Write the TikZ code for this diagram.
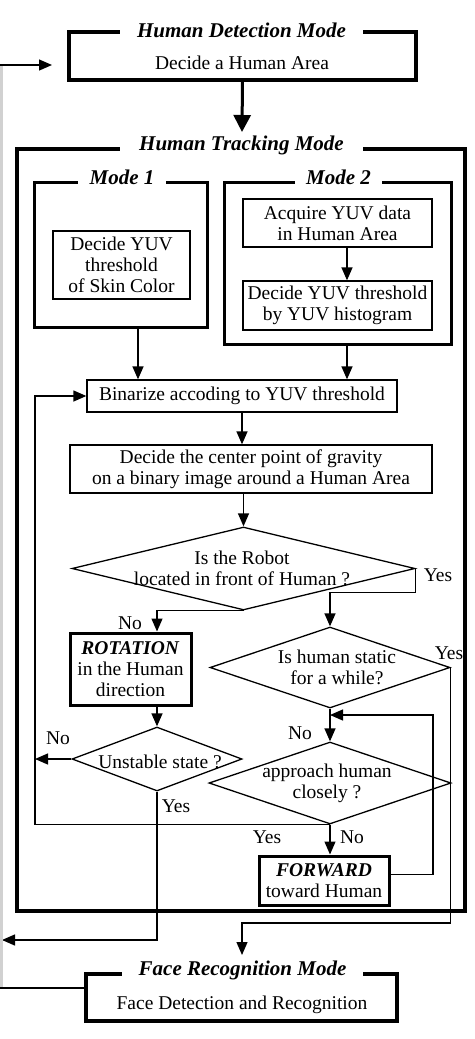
\documentclass[tikz,border=0pt]{standalone}
\usepackage{fontspec}
\setmainfont{Liberation Serif}
\usetikzlibrary{arrows.meta,shapes.geometric}
\begin{document}
\begin{tikzpicture}[x=1pt,y=-1pt,
  every node/.style={font=\fontsize{19.5}{21}\selectfont},
  box/.style={draw,line width=1.3pt,inner sep=0pt,align=center},
  boldbox/.style={draw,line width=3pt,inner sep=0pt,align=center},
  area/.style={inner sep=0pt},
  frametitle/.style={font=\fontsize{21}{23}\selectfont\bfseries\itshape,inner sep=0pt,anchor=base},
  bigframe/.style={line width=4pt},
  midframe/.style={line width=3pt},
  dia/.style={diamond,draw,line width=1.3pt,inner sep=0pt},
  txt/.style={align=center,inner sep=0pt},
  lbl/.style={inner sep=0pt},
  conn/.style={line width=1.3pt},
  arr/.style={line width=1.3pt,-{Triangle[length=13pt,width=11pt]}},
  bigarr/.style={line width=3pt,-{Triangle[length=17pt,width=17pt]}},
  grayline/.style={line width=3pt,draw=black!18},
]
\useasboundingbox (0,0) rectangle (474,1039);

% Human Detection Mode
\node[area,minimum width=347pt,minimum height=48pt] (hd) at (242.5,56) {};
\node[frametitle,minimum width=243pt] (hdT) at (241.5,37) {Human Detection Mode};
\node[txt,anchor=base] (hdX) at (242,69) {Decide a Human Area};
\draw[bigframe] (hd.north -| hdT.west) -| (hd.south west) -| (hd.north east) -- (hd.north -| hdT.east);

% Human Tracking Mode
\node[area,minimum width=448pt,minimum height=762pt] (ht) at (241,530) {};
\node[frametitle,minimum width=243pt] (htT) at (241.5,150) {Human Tracking Mode};
\draw[bigframe] (ht.north -| htT.west) -| (ht.south west) -| (ht.north east) -- (ht.north -| htT.east);
\coordinate (htA) at (242,132);
\draw[bigarr] (hd.south) -- (htA);

% Mode 1
\node[area,minimum width=172pt,minimum height=144pt] (m1) at (121,255) {};
\node[frametitle,minimum width=88pt] (m1T) at (122,184) {Mode 1};
\draw[midframe] (m1.north -| m1T.west) -| (m1.south west) -| (m1.north east) -- (m1.north -| m1T.east);
\node[box,minimum width=137pt,minimum height=68pt] (skin) at (121.5,265) {Decide YUV\\threshold\\of Skin Color};

% Mode 2
\node[area,minimum width=226pt,minimum height=161pt] (m2) at (338,263.5) {};
\node[frametitle,minimum width=87pt] (m2T) at (338.5,184) {Mode 2};
\draw[midframe] (m2.north -| m2T.west) -| (m2.south west) -| (m2.north east) -- (m2.north -| m2T.east);
\node[box,minimum width=189pt,minimum height=48pt] (acq) at (337.5,223) {Acquire YUV data\\in Human Area};
\node[box,minimum width=189pt,minimum height=49pt] (hist) at (337.5,305.5) {Decide YUV threshold\\by YUV histogram};

% main flow
\node[box,minimum width=310pt,minimum height=32pt] (bin) at (242,396) {Binarize accoding to YUV threshold};
\node[box,minimum width=362pt,minimum height=48pt] (grav) at (251,469) {Decide the center point of gravity\\on a binary image around a Human Area};
\node[dia,minimum width=343pt,minimum height=83pt] (d1) at (243.5,568.5) {};
\node[txt] (d1t) at (242,568) {Is the Robot\\located in front of Human ?};
\node[boldbox,minimum width=121pt,minimum height=72pt] (rot) at (130.5,669) {\textbf{\textit{ROTATION}}\\in the Human\\direction};
\node[dia,minimum width=170pt,minimum height=64pt] (du) at (157,759) {};
\node[txt] (dut) at (160,762) {Unstable state ?};
\node[dia,minimum width=240pt,minimum height=81pt] (d2) at (330,667.5) {};
\node[txt] (d2t) at (337,667) {Is human static\\for a while?};
\node[dia,minimum width=242pt,minimum height=82pt] (d4) at (330,783) {};
\node[txt] (d4t) at (327,783) {approach human\\closely ?};
\node[boldbox,minimum width=130pt,minimum height=49pt] (fwd) at (324,880.5) {\textbf{\textit{FORWARD}}\\toward Human};

% Face Recognition Mode
\node[area,minimum width=311pt,minimum height=47pt] (face) at (241.5,997.5) {};
\node[frametitle,minimum width=241pt] (faceT) at (242.5,975) {Face Recognition Mode};
\node[txt,anchor=base] (faceX) at (242,1009) {Face Detection and Recognition};
\draw[bigframe] (face.north -| faceT.west) -| (face.south west) -| (face.north east) -- (face.north -| faceT.east);

% helper coordinates
\coordinate (cx0) at (35,0);
\coordinate (cx1) at (138,0);
\coordinate (cx2) at (347,0);
\coordinate (cx3) at (157,0);
\coordinate (fb) at (330,715);
\coordinate (fbx) at (433,715);
\coordinate (faceA) at (242,955);
\coordinate (fr) at (0,923);
\coordinate (ret) at (2,940);
\coordinate (lt) at (0,65);
\coordinate (lta) at (52,65);
\coordinate (lb) at (0,988);
\coordinate (gtop) at (1.5,65);
\coordinate (gbot) at (1.5,988);

% connectors
\draw[arr] (acq.south -| cx2) -- (hist.north -| cx2);
\draw[arr] (m1.south -| cx1) -- (bin.north -| cx1);
\draw[arr] (m2.south -| cx2) -- (bin.north -| cx2);
\draw[arr] (bin.south) -- (bin.south |- grav.north);
\draw[arr] (grav.south -| d1.north) -- (d1.north);
\draw[arr] (d1.east) -- ++(0,24) -| (d2.north);
\draw[arr] (d1.south) -| (rot.north -| cx3);
\draw[arr] (rot.south -| cx3) -- (du.north);
\draw[arr] (du.west) -- (du.west -| cx0);
\draw[arr] (d2.south) -- (d4.north);
\draw[arr] (d4.south) -| (cx0 |- bin.west) -- (bin.west);
\draw[arr] (d4.south) -- (fwd.north -| d4.south);
\draw[arr] ([yshift=6pt]fwd.east) -| (fbx) -- (fb);
\draw[arr] (d2.east) |- (faceA |- fr) -- (faceA);
\draw[arr] (du.south) |- (ret);
\draw[grayline] (gtop) -- (gbot);
\draw[arr] (lt) -- (lta);
\draw[conn] (face.west |- lb) -- (lb);

% labels
\node[lbl] (y1) at (438,575) {Yes};
\node[lbl] (n1) at (130,623) {No};
\node[lbl] (y2) at (449,653) {Yes};
\node[lbl] (n2) at (300,733) {No};
\node[lbl] (n3) at (58,738) {No};
\node[lbl] (y3) at (176,806) {Yes};
\node[lbl] (y4) at (267,837) {Yes};
\node[lbl] (n4) at (352,837) {No};
\end{tikzpicture}
\end{document}
